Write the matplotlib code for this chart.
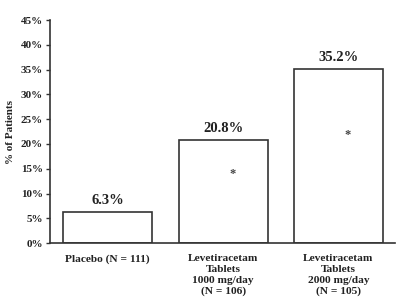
import matplotlib

matplotlib.use("Agg")
import matplotlib.pyplot as plt
from matplotlib.ticker import FuncFormatter

# values
categories = [
    "Placebo (N = 111)",
    "Levetiracetam\nTablets\n1000 mg/day\n(N = 106)",
    "Levetiracetam\nTablets\n2000 mg/day\n(N = 105)",
]
percent = [6.3, 20.8, 35.2]
value_labels = ["6.3%", "20.8%", "35.2%"]
star_at = [None, 13.9, 21.8]
yticks = [0, 5, 10, 15, 20, 25, 30, 35, 40, 45]

plt.rcParams["font.family"] = ["Liberation Serif", "DejaVu Serif"]
plt.rcParams["font.weight"] = "bold"
plt.rcParams["axes.labelweight"] = "bold"

fig = plt.figure(figsize=(4.0, 3.05), dpi=100)
ax = fig.add_axes([0.125, 0.203, 0.8625, 0.731])
ink = "#333333"

x = range(len(categories))
ax.bar(x, percent, width=0.77, color="white", edgecolor=ink, linewidth=1.2)
for i, (v, lab) in enumerate(zip(percent, value_labels)):
    ax.text(i, v + 1.0, lab, ha="center", va="bottom", fontsize=10.5,
            fontweight="bold", color="#222222")
    if star_at[i] is not None:
        ax.text(i + 0.08, star_at[i], "*", ha="center", va="center",
                fontsize=9, color="#444444")

ax.set_xlim(-0.5, 2.49)
ax.set_ylim(0, 45)
ax.set_yticks(yticks)
ax.yaxis.set_major_formatter(FuncFormatter(lambda v, _: f"{v:.0f}%"))
ax.set_xticks(list(x))
ax.set_xticklabels(categories, fontsize=8.2, linespacing=1.25, color="#222222")
ax.tick_params(axis="x", length=0, pad=8)
ax.tick_params(axis="y", length=3, width=1.0, color=ink, labelsize=8,
               pad=2, labelcolor="#222222")
for side in ("top", "right"):
    ax.spines[side].set_visible(False)
for side in ("left", "bottom"):
    ax.spines[side].set_color(ink)
    ax.spines[side].set_linewidth(1.2)
ax.set_ylabel("% of Patients", fontsize=8, labelpad=4, color="#222222")

fig.savefig("out.png", dpi=100)
